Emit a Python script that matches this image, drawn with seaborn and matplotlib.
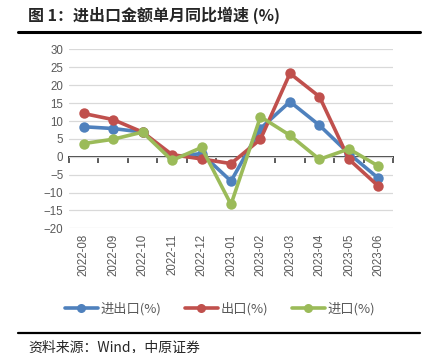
import numpy as np
import pandas as pd
import seaborn as sns
import matplotlib.pyplot as plt
from matplotlib.lines import Line2D

# estilo base
sns.set_theme(style='white')
plt.rcParams['font.family'] = ['Noto Sans CJK SC', 'DejaVu Sans']

# datos
months = ['2022-08', '2022-09', '2022-10', '2022-11', '2022-12', '2023-01',
          '2023-02', '2023-03', '2023-04', '2023-05', '2023-06']
total = [8.4, 7.9, 6.9, 0.0, 0.9, -6.8, 7.9, 15.4, 8.8, 0.9, -6.0]
export = [12.1, 10.4, 6.9, 0.6, -0.6, -1.9, 4.9, 23.3, 16.8, -0.7, -8.2]
imports = [3.7, 4.9, 6.9, -1.0, 2.6, -13.3, 11.2, 6.0, -0.7, 2.2, -2.6]
series_names = ['进出口(%)', '出口(%)', '进口(%)']
colors = ['#4F81BD', '#C0504D', '#9BBB59']
y_ticks = list(range(-20, 35, 5))

df = pd.DataFrame({
    '月份': months * 3,
    '同比': total + export + imports,
    '指标': np.repeat(series_names, len(months)),
})

fig = plt.figure(figsize=(4.33, 3.53), dpi=100)
ax = fig.add_axes([0.159, 0.353, 0.749, 0.507])

sns.lineplot(data=df, x='月份', y='同比', hue='指标', hue_order=series_names,
             palette=colors, marker='o', markersize=7.5, markeredgewidth=0,
             linewidth=2.6, sort=False, ax=ax, legend=False)

# ejes
ax.set_xlim(-0.5, len(months) - 0.5)
ax.set_ylim(y_ticks[0], y_ticks[-1])
ax.set_yticks(y_ticks)
ax.set_xticks(range(len(months)))
ax.set_xticklabels(months, rotation=90)
ax.set_xlabel('')
ax.set_ylabel('')
for s in ax.spines.values():
    s.set_visible(False)
ax.grid(axis='y', color='#D9D9D9', linewidth=0.9)
ax.set_axisbelow(True)
ax.tick_params(axis='both', length=0, labelsize=8.3, labelcolor='#595959', pad=4)
for lab in ax.get_xticklabels() + ax.get_yticklabels():
    lab.set_family(['Liberation Sans', 'DejaVu Sans'])

# linea del cero con marcas entre categorias
zero_frac = (0 - y_ticks[0]) / (y_ticks[-1] - y_ticks[0])
sec = ax.secondary_xaxis(zero_frac)
sec.xaxis.set_ticks_position('bottom')
sec.set_xticks(np.arange(-0.5, len(months), 1))
sec.tick_params(axis='x', direction='out', length=4, width=1.2, color='#404040',
                labelbottom=False, labeltop=False)
for name, s in sec.spines.items():
    s.set_visible(name == 'bottom')
sec.spines['bottom'].set_color('#404040')
sec.spines['bottom'].set_linewidth(1.4)

# leyenda
handles = [Line2D([], [], color=c, marker='o', markersize=6.5, markeredgewidth=0,
                  linewidth=2.6) for c in colors]
fig.legend(handles, series_names, loc='center', bbox_to_anchor=(220 / 433, 1 - 309 / 353),
           ncol=3, frameon=False, handlelength=2.5, columnspacing=1.8,
           handletextpad=0.2, prop={'size': 9.5, 'weight': 'light'}, labelcolor='#595959')

# titulo, reglas y fuente
fig.text(28 / 433, 1 - 15 / 353, '图 1：进出口金额单月同比增速 (%)', fontsize=11.5,
         fontweight='bold', va='center', ha='left')
fig.add_artist(Line2D([18 / 433, 420 / 433], [1 - 31.5 / 353] * 2, color='black',
                      linewidth=2.2, transform=fig.transFigure))
fig.add_artist(Line2D([18 / 433, 420 / 433], [1 - 333 / 353] * 2, color='black',
                      linewidth=1.6, transform=fig.transFigure))
fig.text(28 / 433, 1 - 347 / 353, '资料来源：Wind，中原证券', fontsize=10,
         va='center', ha='left')

fig.savefig('out.png', dpi=100)
